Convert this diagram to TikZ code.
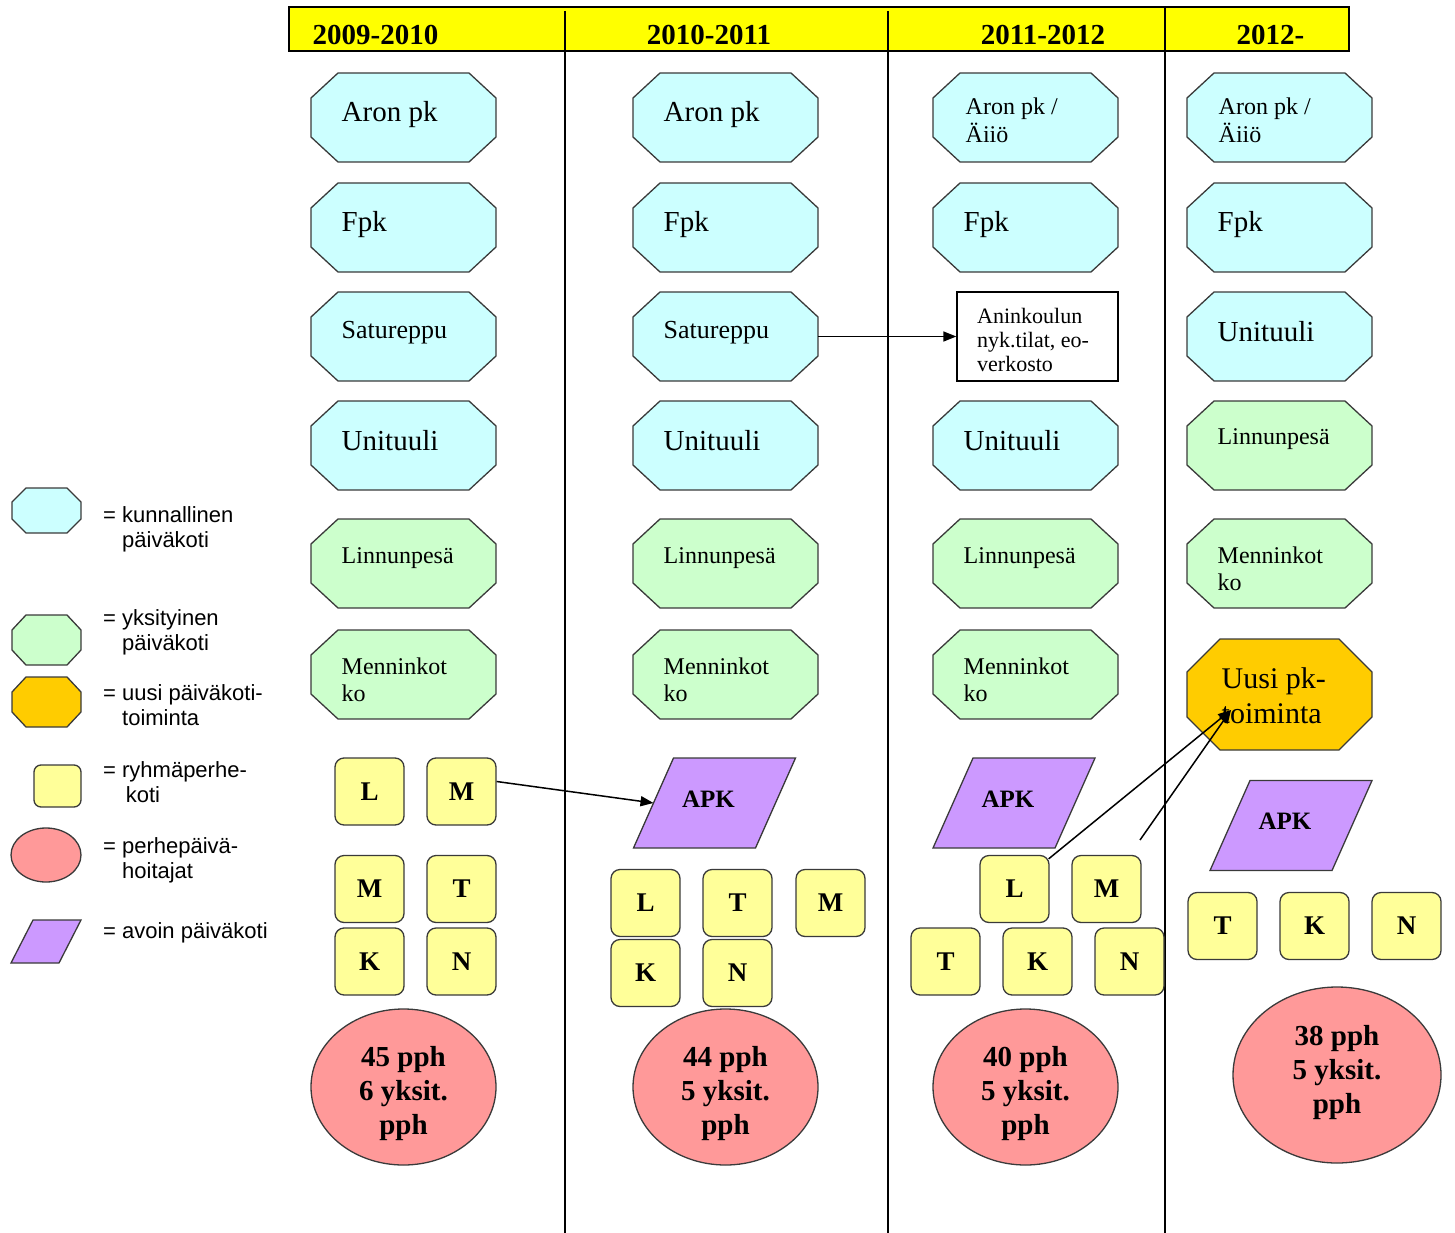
\documentclass[tikz,border=0pt]{standalone}
\usepackage{fontspec}
\setmainfont{Liberation Serif}
\newfontfamily\legendfont{Liberation Sans}
\usetikzlibrary{arrows.meta,shapes.geometric}

\definecolor{kunf}{HTML}{CCFFFF}
\definecolor{yksf}{HTML}{CCFFCC}
\definecolor{uusif}{HTML}{FFCC00}
\definecolor{rpkf}{HTML}{FFFF99}
\definecolor{pphf}{HTML}{FF9999}
\definecolor{apkf}{HTML}{CC99FF}
\definecolor{headf}{HTML}{FFFF00}
\definecolor{edge}{HTML}{3A3A3A}

\newcommand\fs[2]{\fontsize{#1}{#2}\selectfont}
\newcommand\lns[1]{\begin{tabular}[t]{@{}l@{}}#1\end{tabular}}

% name, cx, cy, half width, half height, chamfer x, chamfer y, fill
\newcommand\octo[8]{%
\draw[shp,fill=#8] ({#2-#4+#6},{#3-#5}) -- ({#2+#4-#6},{#3-#5}) -- ({#2+#4},{#3-#5+#7}) -- ({#2+#4},{#3+#5-#7}) -- ({#2+#4-#6},{#3+#5}) -- ({#2-#4+#6},{#3+#5}) -- ({#2-#4},{#3+#5-#7}) -- ({#2-#4},{#3-#5+#7}) -- cycle;
\node[inner sep=0pt,minimum width={2*#4pt},minimum height={2*#5pt}] (#1) at (#2,#3) {};}
% name, cx, cy, fill
\newcommand\stdoct[4]{\octo{#1}{#2}{#3}{92.5}{44.5}{27}{25}{#4}}
% name, cx, baseline y, font, text
\newcommand\otext[5]{\node[otx,font=#4] (#1) at ({#2-62},#3) {#5};}
% parallelogram: name, cx, cy
\newcommand\apk[3]{%
\draw[shp,fill=apkf] ({#2-41},{#3-45}) -- ({#2+81},{#3-45}) -- ({#2+41},{#3+45}) -- ({#2-81},{#3+45}) -- cycle;
\node[font=\fs{25}{28}\bfseries,inner sep=0pt] (#1) at ({#2-6},{#3-4}) {APK};
\coordinate (#1-w) at ({#2-61},#3);}

\begin{document}
\begin{tikzpicture}[x=1pt,y=-1pt,
  shp/.style={draw=edge,line width=1.3pt},
  otx/.style={anchor=base west,inner sep=0pt},
  rpk/.style={draw=edge,line width=1.3pt,fill=rpkf,rounded corners=9pt,minimum width=69pt,minimum height=67pt,inner sep=0pt,font=\fs{27}{30}\bfseries},
  pph/.style={ellipse,draw=edge,line width=1.3pt,fill=pphf,inner sep=0pt},
  ptx/.style={inner sep=0pt,align=center,font=\fs{29}{34}\bfseries},
  hdr/.style={anchor=base,inner sep=0pt,font=\fs{29}{32}\bfseries},
  leg/.style={anchor=base west,inner sep=0pt,font=\legendfont\fs{22}{25}},
  conn/.style={line width=1.5pt,-{Triangle[length=13pt,width=10pt]}},
  divider/.style={line width=1.8pt}]
\useasboundingbox (0,0) rectangle (1455,1233);

% header
\draw[line width=2pt,fill=headf] (289,7) rectangle (1349,51);
\node[hdr] (h1) at (375.5,45) {2009-2010};
\node[hdr] (h2) at (709,45) {2010-2011};
\node[hdr] (h3) at (1043,45) {2011-2012};
\node[hdr] (h4) at (1270.5,45) {2012-};
\draw[divider] (565,11) -- (565,1233);
\draw[divider] (888,11) -- (888,1233);
\draw[divider] (1165,8) -- (1165,1233);

% column 1
\stdoct{a1}{403.5}{117.5}{kunf} \otext{a1t}{403.5}{121.5}{\fs{29}{32}}{Aron pk}
\stdoct{f1}{403.5}{227.5}{kunf} \otext{f1t}{403.5}{232}{\fs{29}{32}}{Fpk}
\stdoct{s1}{403.5}{336.5}{kunf} \otext{s1t}{403.5}{338}{\fs{26}{29}}{Satureppu}
\stdoct{u1}{403.5}{445.5}{kunf} \otext{u1t}{403.5}{450}{\fs{29}{32}}{Unituuli}
\stdoct{l1}{403.5}{563.5}{yksf} \otext{l1t}{403.5}{563}{\fs{24}{27}}{Linnunpesä}
\stdoct{m1}{403.5}{674.5}{yksf} \otext{m1t}{403.5}{674}{\fs{24}{27}}{\lns{Menninkot\\ko}}

% column 2
\stdoct{a2}{725.5}{117.5}{kunf} \otext{a2t}{725.5}{121.5}{\fs{29}{32}}{Aron pk}
\stdoct{f2}{725.5}{227.5}{kunf} \otext{f2t}{725.5}{232}{\fs{29}{32}}{Fpk}
\stdoct{s2}{725.5}{336.5}{kunf} \otext{s2t}{725.5}{338}{\fs{26}{29}}{Satureppu}
\stdoct{u2}{725.5}{445.5}{kunf} \otext{u2t}{725.5}{450}{\fs{29}{32}}{Unituuli}
\stdoct{l2}{725.5}{563.5}{yksf} \otext{l2t}{725.5}{563}{\fs{24}{27}}{Linnunpesä}
\stdoct{m2}{725.5}{674.5}{yksf} \otext{m2t}{725.5}{674}{\fs{24}{27}}{\lns{Menninkot\\ko}}

% column 3
\stdoct{a3}{1025.5}{117.5}{kunf} \otext{a3t}{1027.5}{115}{\fs{24}{26}}{\lns{Aron pk /\\Äiiö}}
\stdoct{f3}{1025.5}{227.5}{kunf} \otext{f3t}{1025.5}{232}{\fs{29}{32}}{Fpk}
\node[draw,line width=1.3pt,fill=white,minimum width=161pt,minimum height=89pt,inner sep=0pt] (anin) at (1037.5,336.5) {};
\node[otx,font=\fs{22}{24}] (anint) at (977,323) {\lns{Aninkoulun\\nyk.tilat, eo-\\verkosto}};
\stdoct{u3}{1025.5}{445.5}{kunf} \otext{u3t}{1025.5}{450}{\fs{29}{32}}{Unituuli}
\stdoct{l3}{1025.5}{563.5}{yksf} \otext{l3t}{1025.5}{563}{\fs{24}{27}}{Linnunpesä}
\stdoct{m3}{1025.5}{674.5}{yksf} \otext{m3t}{1025.5}{674}{\fs{24}{27}}{\lns{Menninkot\\ko}}

% column 4
\stdoct{a4}{1279.5}{117.5}{kunf} \otext{a4t}{1280.5}{115}{\fs{24}{26}}{\lns{Aron pk /\\Äiiö}}
\stdoct{f4}{1279.5}{227.5}{kunf} \otext{f4t}{1279.5}{232}{\fs{29}{32}}{Fpk}
\stdoct{u4}{1279.5}{336.5}{kunf} \otext{u4t}{1279.5}{341}{\fs{29}{32}}{Unituuli}
\stdoct{l4}{1279.5}{445.5}{yksf} \otext{l4t}{1279.5}{444}{\fs{24}{27}}{Linnunpesä}
\stdoct{m4}{1279.5}{563.5}{yksf} \otext{m4t}{1279.5}{563}{\fs{24}{27}}{\lns{Menninkot\\ko}}
\octo{uusi}{1279.5}{694.5}{92.5}{55.5}{33}{33}{uusif}
\otext{uusit}{1283.5}{688}{\fs{30}{35}}{\lns{Uusi pk-\\toiminta}}

% APK
\apk{apk2}{714.5}{803}
\apk{apk3}{1014}{803}
\apk{apk4}{1291}{825.5}

% ryhmaperhekodit
\node[rpk] (r1l) at (369.5,791.5) {L};
\node[rpk] (r1m) at (461.5,791.5) {M};
\node[rpk] (r1m2) at (369.5,889) {M};
\node[rpk] (r1t) at (461.5,889) {T};
\node[rpk] (r1k) at (369.5,961.5) {K};
\node[rpk] (r1n) at (461.5,961.5) {N};

\node[rpk] (r2l) at (645.5,903) {L};
\node[rpk] (r2t) at (737.5,903) {T};
\node[rpk] (r2m) at (830.5,903) {M};
\node[rpk] (r2k) at (645.5,973) {K};
\node[rpk] (r2n) at (737.5,973) {N};

\node[rpk] (r3l) at (1014.5,889) {L};
\node[rpk] (r3m) at (1106.5,889) {M};
\node[rpk] (r3t) at (945.5,961.5) {T};
\node[rpk] (r3k) at (1037.5,961.5) {K};
\node[rpk] (r3n) at (1129.5,961.5) {N};

\node[rpk] (r4t) at (1222.5,926) {T};
\node[rpk] (r4k) at (1314.5,926) {K};
\node[rpk] (r4n) at (1406.5,926) {N};

% perhepaivahoitajat
\node[pph,minimum width=185pt,minimum height=156pt] (p1) at (403.5,1087) {};
\node[ptx] (p1t) at (403.5,1094) {45 pph\\6 yksit.\\pph};
\node[pph,minimum width=185pt,minimum height=156pt] (p2) at (725.5,1087) {};
\node[ptx] (p2t) at (725.5,1094) {44 pph\\5 yksit.\\pph};
\node[pph,minimum width=185pt,minimum height=156pt] (p3) at (1025.5,1087) {};
\node[ptx] (p3t) at (1025.5,1094) {40 pph\\5 yksit.\\pph};
\node[pph,minimum width=208pt,minimum height=176pt] (p4) at (1337,1075) {};
\node[ptx] (p4t) at (1337,1073) {38 pph\\5 yksit.\\pph};

% connectors
\draw[conn] ([yshift=10pt]r1m.east) -- (apk2-w);
\draw[conn] (s2.east) -- (anin.west);
\coordinate (uusiin) at (1231,710);
\coordinate (freeend) at (1140,840);
\draw[conn] ([xshift=-1pt,yshift=-4pt]r3l.north east) -- (uusiin);
\draw[conn] (freeend) -- (uusiin);

% legend
\octo{lgkun}{46.5}{510.5}{34.5}{22.5}{14}{14}{kunf}
\octo{lgyks}{46.5}{640}{34.5}{25}{14}{15}{yksf}
\octo{lguusi}{46.5}{702}{34.5}{25}{14}{15}{uusif}
\node[draw=edge,line width=1.3pt,fill=rpkf,rounded corners=7pt,minimum width=47pt,minimum height=42pt,inner sep=0pt] (lgrpk) at (57.5,786) {};
\node[ellipse,draw=edge,line width=1.3pt,fill=pphf,minimum width=70pt,minimum height=54pt,inner sep=0pt] (lgpph) at (46,855) {};
\draw[shp,fill=apkf] (33,920) -- (81,920) -- (59,963) -- (11,963) -- cycle;
\coordinate (lgapk) at (46,941.5);

\node[leg] (t1) at (103,522) {\lns{= kunnallinen\\\phantom{= }päiväkoti}};
\node[leg] (t2) at (103,625) {\lns{= yksityinen\\\phantom{= }päiväkoti}};
\node[leg] (t3) at (103,700) {\lns{= uusi päiväkoti-\\\phantom{= }toiminta}};
\node[leg] (t4) at (103,777) {\lns{= ryhmäperhe-\\\phantom{= }\,koti}};
\node[leg] (t5) at (103,853) {\lns{= perhepäivä-\\\phantom{= }hoitajat}};
\node[leg] (t6) at (103,938) {= avoin päiväkoti};
\end{tikzpicture}
\end{document}
